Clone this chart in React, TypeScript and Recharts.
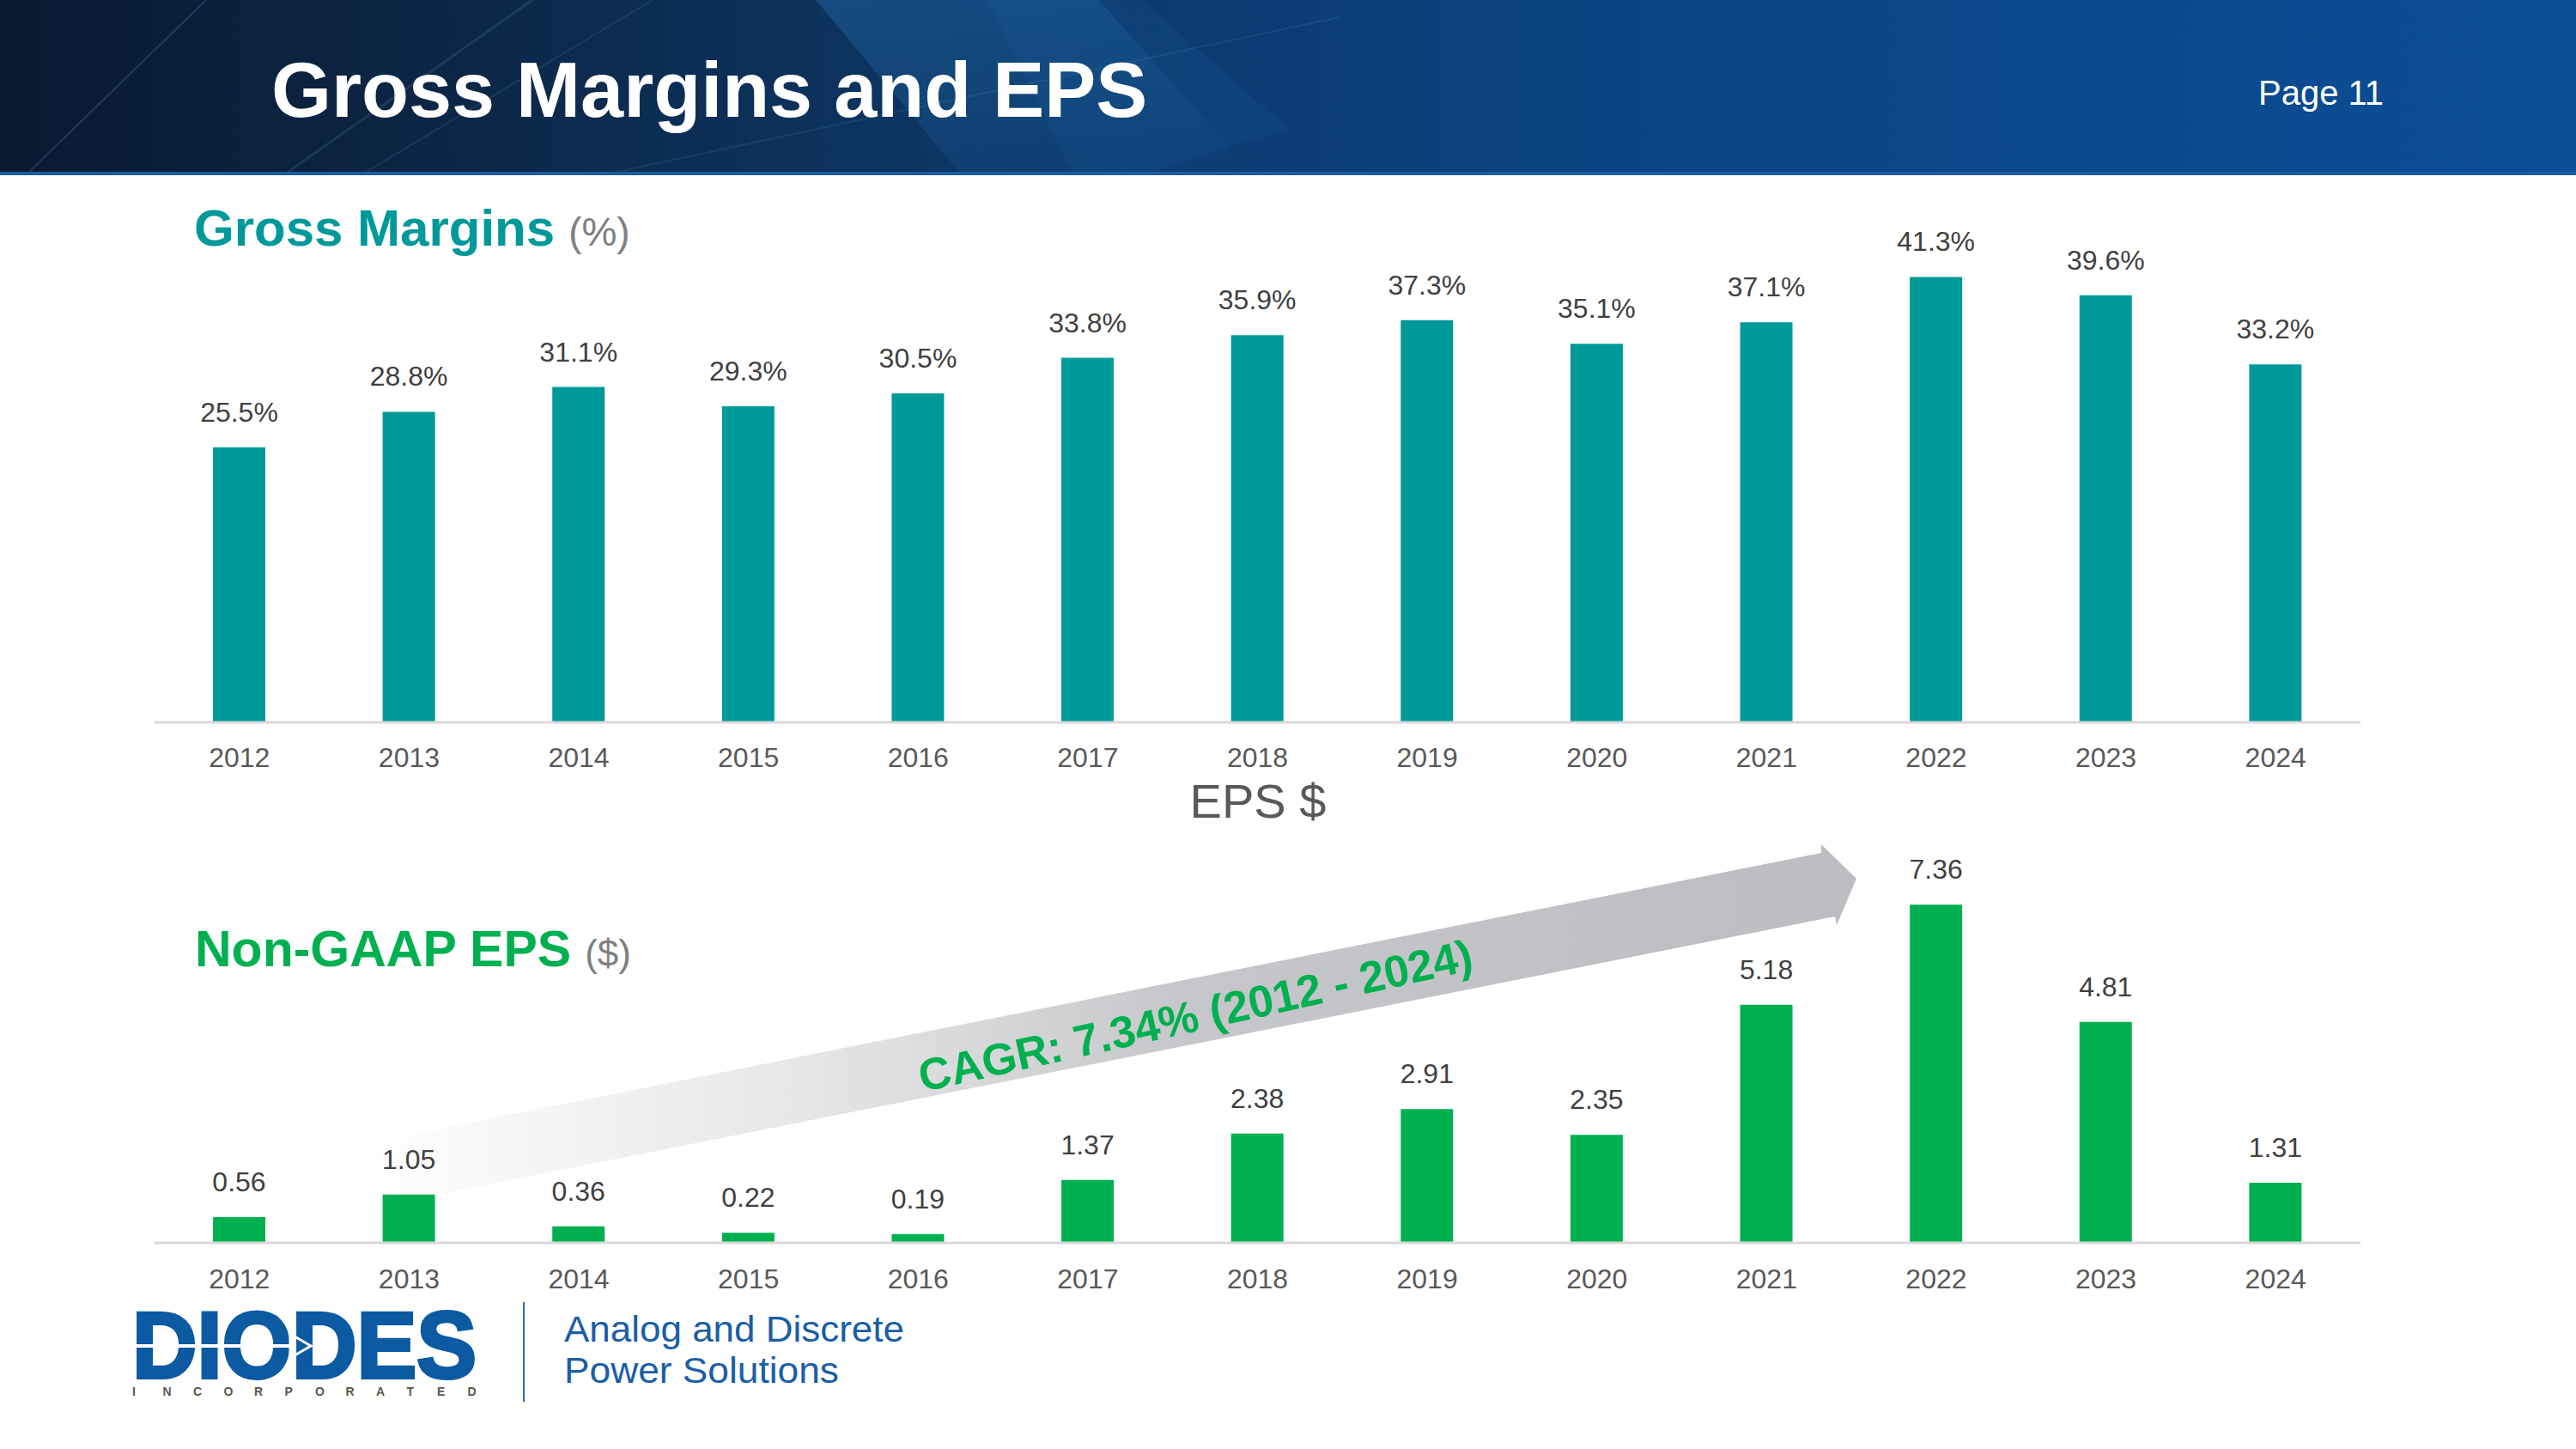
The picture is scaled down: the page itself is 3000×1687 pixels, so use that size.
import React from "react";
import { BarChart, Bar, XAxis, YAxis, LabelList } from "recharts";

const years = ["2012", "2013", "2014", "2015", "2016", "2017", "2018", "2019", "2020", "2021", "2022", "2023", "2024"];
const grossMargins = [25.5, 28.8, 31.1, 29.3, 30.5, 33.8, 35.9, 37.3, 35.1, 37.1, 41.3, 39.6, 33.2];
const nonGaapEps = [0.56, 1.05, 0.36, 0.22, 0.19, 1.37, 2.38, 2.91, 2.35, 5.18, 7.36, 4.81, 1.31];

const marginData = years.map((year, i) => ({ year, value: grossMargins[i] }));
const epsData = years.map((year, i) => ({ year, value: nonGaapEps[i] }));

const FONT = "'Liberation Sans', Arial, sans-serif";
const TEAL = "#009999";
const GREEN = "#00b050";

const Header = () => (
  <g>
    <defs>
      <linearGradient id="hdr" x1="0" y1="0" x2="1" y2="0">
        <stop offset="0%" stopColor="#0a1a30" />
        <stop offset="18%" stopColor="#0c2747" />
        <stop offset="38%" stopColor="#0c3766" />
        <stop offset="60%" stopColor="#0b4381" />
        <stop offset="100%" stopColor="#0c4e97" />
      </linearGradient>
      <linearGradient id="glow" x1="0" y1="0" x2="1" y2="1">
        <stop offset="0%" stopColor="#2d8ad0" stopOpacity="0.3" />
        <stop offset="100%" stopColor="#2d8ad0" stopOpacity="0" />
      </linearGradient>
    </defs>
    <rect x={0} y={0} width={3000} height={204} fill="url(#hdr)" />
    <polygon points="950,0 1280,0 1460,204 1120,204" fill="url(#glow)" />
    <polygon points="1150,0 1330,0 1500,150 1330,204 1250,204" fill="#2a7cc0" opacity={0.1} />
    <line x1={30} y1={204} x2={240} y2={0} stroke="#6fa6d8" strokeWidth={2} opacity={0.2} />
    <line x1={330} y1={204} x2={620} y2={0} stroke="#6fa6d8" strokeWidth={3} opacity={0.15} />
    <line x1={420} y1={204} x2={760} y2={0} stroke="#6fa6d8" strokeWidth={2} opacity={0.14} />
    <line x1={700} y1={204} x2={1560} y2={20} stroke="#6fa6d8" strokeWidth={2} opacity={0.12} />
    <rect x={0} y={200} width={3000} height={4} fill="#1d5c9e" />
    <text x={316} y={136} fill="#ffffff" fontFamily={FONT} fontWeight="bold" fontSize={90}>
      Gross Margins and EPS
    </text>
    <text x={2630} y={122} fill="#ffffff" fontFamily={FONT} fontSize={40}>
      Page 11
    </text>
  </g>
);

const CagrArrow = () => (
  <g>
    <defs>
      <linearGradient id="arrowFill" gradientUnits="userSpaceOnUse" x1={417} y1={0} x2={2162} y2={0}>
        <stop offset="0%" stopColor="#ffffff" />
        <stop offset="30%" stopColor="#e6e6e7" />
        <stop offset="55%" stopColor="#c6c7ca" />
        <stop offset="100%" stopColor="#bcbdc1" />
      </linearGradient>
    </defs>
    <polygon
      points="417,1333 2121,993 2121,983 2162,1023 2139,1077 2137,1067 432,1406"
      fill="url(#arrowFill)"
    />
    <text
      x={1396}
      y={1200}
      transform="rotate(-12.5 1396 1200)"
      textAnchor="middle"
      fill={GREEN}
      fontFamily={FONT}
      fontWeight="bold"
      fontSize={52}
    >
      CAGR: 7.34% (2012 - 2024)
    </text>
  </g>
);

const incorporated = "INCORPORATED".split("");

const Logo = () => (
  <g>
    <text fontFamily={FONT} fontWeight="bold">
      <tspan
        x={154}
        y={1604}
        fill="#0b5aa2"
        stroke="#0b5aa2"
        strokeWidth={4}
        fontSize={109}
        textLength={401}
        lengthAdjust="spacingAndGlyphs"
      >
        DIODES
      </tspan>
      <tspan
        x={incorporated.map((_, i) => 154 + i * 35.5).join(" ")}
        y={1625}
        fill="#5a594b"
        fontSize={14}
      >
        INCORPORATED
      </tspan>
    </text>
    <rect x={154} y={1565} width={190} height={4} fill="#ffffff" />
    <polygon points="338,1553 362,1567 338,1581" fill="none" stroke="#ffffff" strokeWidth={3} />
    <rect x={609} y={1516} width={2} height={116} fill="#2a6ab0" />
    <text fill="#1a5ea8" fontFamily={FONT} fontSize={42}>
      <tspan x={657} y={1562} textLength={396} lengthAdjust="spacingAndGlyphs">
        Analog and Discrete
      </tspan>
      <tspan x={657} y={1610} textLength={320} lengthAdjust="spacingAndGlyphs">
        Power Solutions
      </tspan>
    </text>
  </g>
);

const Titles = () => (
  <g fontFamily={FONT}>
    <text x={226} y={286}>
      <tspan fill={TEAL} fontWeight="bold" fontSize={60}>Gross Margins</tspan>
      <tspan fill="#7f7f7f" fontSize={46} dx={16}>(%)</tspan>
    </text>
    <text x={1465} y={952} textAnchor="middle" fill="#595959" fontSize={56}>
      EPS $
    </text>
    <text x={227} y={1125}>
      <tspan fill={GREEN} fontWeight="bold" fontSize={59}>Non-GAAP EPS</tspan>
      <tspan fill="#7f7f7f" fontSize={44} dx={16}>($)</tspan>
    </text>
  </g>
);

const tickStyle = { fill: "#595959", fontSize: 32, fontFamily: FONT };
const labelProps = { fill: "#404040", fontSize: 32, fontFamily: FONT, stroke: "none" };

export default function App() {
  return (
    <div style={{ position: "absolute", left: 0, top: 0, width: 3000, height: 1687, background: "#ffffff", overflow: "hidden" }}>
      <svg width={3000} height={1687} style={{ position: "absolute", left: 0, top: 0 }}>
        <Header />
        <Titles />
        <CagrArrow />
        <Logo />
      </svg>

      <div style={{ position: "absolute", left: 0, top: 200 }}>
        <BarChart width={3000} height={760} data={marginData} margin={{ top: 76, right: 251, bottom: 89, left: 180 }}>
          <XAxis
            dataKey="year"
            tickLine={false}
            tickMargin={23}
            axisLine={{ stroke: "#d9d9d9", strokeWidth: 3 }}
            tick={tickStyle}
            interval={0}
          />
          <YAxis hide domain={[0, 45]} />
          <Bar dataKey="value" fill={TEAL} barSize={61} isAnimationActive={false}>
            <LabelList dataKey="value" position="top" offset={30} formatter={(v: number) => `${v.toFixed(1)}%`} {...labelProps} />
          </Bar>
        </BarChart>
      </div>

      <div style={{ position: "absolute", left: 0, top: 960 }}>
        <BarChart width={3000} height={557} data={epsData} margin={{ top: 59, right: 251, bottom: 40, left: 180 }}>
          <XAxis
            dataKey="year"
            tickLine={false}
            tickMargin={24}
            axisLine={{ stroke: "#d9d9d9", strokeWidth: 3 }}
            tick={tickStyle}
            interval={0}
          />
          <YAxis hide domain={[0, 8]} />
          <Bar dataKey="value" fill={GREEN} barSize={61} isAnimationActive={false}>
            <LabelList dataKey="value" position="top" offset={30} formatter={(v: number) => v.toFixed(2)} {...labelProps} />
          </Bar>
        </BarChart>
      </div>
    </div>
  );
}
